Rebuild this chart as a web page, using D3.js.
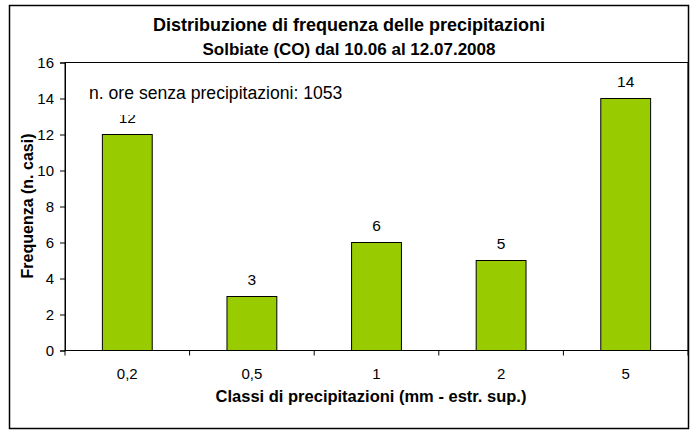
<!DOCTYPE html>
<html>
<head>
<meta charset="utf-8">
<script src="https://cdn.jsdelivr.net/npm/d3@7"></script>
<style>
  body { margin: 0; background: #fff; }
  text { font-family: "Liberation Sans", Arial, sans-serif; fill: #000; }
</style>
</head>
<body>
<div id="chart"></div>
<script>
// dati
const classi = ["0,2", "0,5", "1", "2", "5"];
const frequenze = [12, 3, 6, 5, 14];
const yTicks = [0, 2, 4, 6, 8, 10, 12, 14, 16];
const titolo = "Distribuzione di frequenza delle precipitazioni";
const sottotitolo = "Solbiate (CO) dal 10.06 al 12.07.2008";
const nota = "n. ore senza precipitazioni: 1053";

const width = 696, height = 432;
const margin = {top: 62.5, right: 8, bottom: 81.5, left: 65};

const svg = d3.select("#chart").append("svg")
    .attr("width", width)
    .attr("height", height);

// cornice esterna
svg.append("rect")
    .attr("x", 9.5).attr("y", 5.5)
    .attr("width", 679).attr("height", 423)
    .attr("fill", "#fff")
    .attr("stroke", "#000")
    .attr("stroke-width", 1.5);

const x = d3.scaleBand()
    .domain(classi)
    .range([margin.left, width - margin.right])
    .paddingInner(0.6)
    .paddingOuter(0.3);

const y = d3.scaleLinear()
    .domain([0, 16])
    .range([height - margin.bottom, margin.top]);

// area del grafico
svg.append("rect")
    .attr("x", margin.left).attr("y", margin.top)
    .attr("width", width - margin.right - margin.left)
    .attr("height", height - margin.bottom - margin.top)
    .attr("fill", "none")
    .attr("stroke", "#000");

svg.selectAll(".bar")
    .data(frequenze)
    .enter().append("rect")
    .attr("class", "bar")
    .attr("x", (d, i) => x(classi[i]))
    .attr("y", d => y(d))
    .attr("width", x.bandwidth())
    .attr("height", d => y(0) - y(d))
    .attr("fill", "#99cc00")
    .attr("stroke", "#000")
    .attr("stroke-width", 1);

svg.selectAll(".val")
    .data(frequenze)
    .enter().append("text")
    .attr("class", "val")
    .attr("x", (d, i) => x(classi[i]) + x.bandwidth() / 2)
    .attr("y", d => y(d) - 12)
    .attr("text-anchor", "middle")
    .style("font-size", "15.5px")
    .text(d => d);

// asse y
const yAxis = svg.append("g")
    .attr("transform", "translate(" + margin.left + ",0)")
    .call(d3.axisLeft(y).tickValues(yTicks).tickSize(5).tickPadding(6));
yAxis.selectAll("text").style("font-size", "15px");
yAxis.select(".domain").attr("stroke", "#000");

// asse x: tacche ai bordi delle classi
const xAxis = svg.append("g")
    .attr("transform", "translate(0," + y(0) + ")");
xAxis.append("line")
    .attr("x1", margin.left).attr("x2", width - margin.right)
    .attr("stroke", "#000");
const step = x.step();
xAxis.selectAll(".tick")
    .data(d3.range(classi.length + 1))
    .enter().append("line")
    .attr("x1", i => margin.left + i * step)
    .attr("x2", i => margin.left + i * step)
    .attr("y1", 0).attr("y2", 5)
    .attr("stroke", "#000");
xAxis.selectAll(".lbl")
    .data(classi)
    .enter().append("text")
    .attr("x", d => x(d) + x.bandwidth() / 2)
    .attr("y", 28)
    .attr("text-anchor", "middle")
    .style("font-size", "15px")
    .text(d => d);

// nota con sfondo bianco (copre in parte l'etichetta 12)
svg.append("rect")
    .attr("x", 84).attr("y", 79)
    .attr("width", 268).attr("height", 36)
    .attr("fill", "#fff");
svg.append("text")
    .attr("x", 89).attr("y", 99)
    .style("font-size", "17.6px")
    .text(nota);

// titoli
svg.append("text")
    .attr("x", 349).attr("y", 31)
    .attr("text-anchor", "middle")
    .style("font-size", "18px").style("font-weight", "bold")
    .text(titolo);
svg.append("text")
    .attr("x", 349).attr("y", 55)
    .attr("text-anchor", "middle")
    .style("font-size", "17px").style("font-weight", "bold")
    .text(sottotitolo);

svg.append("text")
    .attr("x", 371).attr("y", 402)
    .attr("text-anchor", "middle")
    .style("font-size", "16.5px").style("font-weight", "bold")
    .text("Classi di precipitazioni (mm - estr. sup.)");

svg.append("text")
    .attr("transform", "translate(33,206) rotate(-90)")
    .attr("text-anchor", "middle")
    .style("font-size", "16px").style("font-weight", "bold")
    .text("Frequenza (n. casi)");
</script>
</body>
</html>
